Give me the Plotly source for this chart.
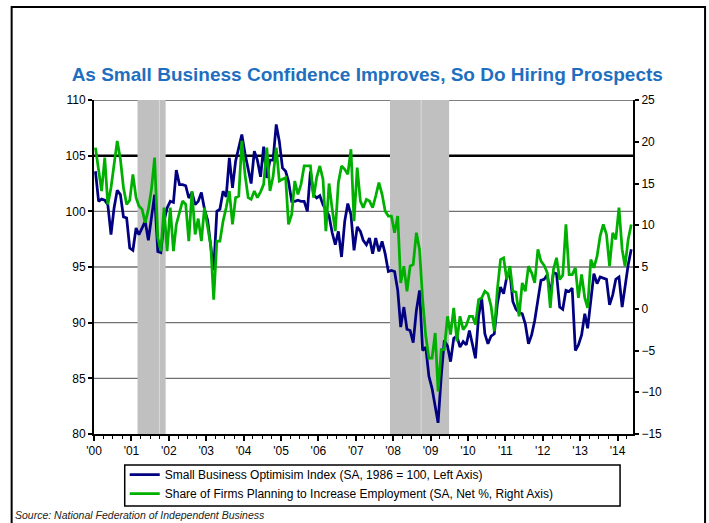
import pandas as pd
import plotly.graph_objects as go

# ---------------- data (monthly, Jan 2000 - May 2014) ----------------
start_month = "2000-01-01"

optimism = [
    103.6, 100.9, 101.1, 101.0, 100.6, 97.9, 100.3, 101.9, 101.5, 99.5, 99.4, 96.7,   # 2000
    96.5, 98.5, 97.9, 98.6, 99.1, 97.4, 99.4, 101.5, 96.4, 96.3, 99.1, 100.3,         # 2001
    100.9, 100.8, 103.7, 102.4, 102.4, 102.3, 101.2, 101.7, 100.6, 100.9, 101.7, 100.2,  # 2002
    99.2, 97.1, 94.7, 100.0, 100.2, 101.8, 101.3, 104.8, 102.1, 104.5, 105.7, 106.9,  # 2003
    105.2, 103.8, 102.5, 105.4, 104.6, 103.1, 105.8, 103.0, 104.6, 104.6, 107.8, 106.3,  # 2004
    103.9, 103.6, 102.7, 100.9, 100.9, 101.0, 100.9, 100.9, 100.0, 103.6, 101.5, 101.2,  # 2005
    101.4, 100.6, 100.1, 99.6, 98.1, 97.0, 98.2, 95.9, 99.1, 100.7, 99.7, 96.5,       # 2006
    98.6, 98.2, 97.4, 97.0, 97.6, 96.2, 97.6, 96.4, 97.3, 96.2, 94.6, 94.7,           # 2007
    94.6, 92.9, 89.6, 91.4, 89.4, 89.3, 88.2, 91.1, 92.9, 87.5, 87.8, 85.2,           # 2008
    84.1, 82.6, 81.0, 85.2, 88.4, 87.9, 86.5, 88.6, 88.8, 87.8, 88.3, 88.0,           # 2009
    89.3, 88.0, 86.8, 90.6, 92.2, 89.0, 88.1, 88.8, 89.0, 91.7, 93.2, 92.6,           # 2010
    94.1, 94.5, 91.9, 91.2, 90.9, 90.8, 89.9, 88.1, 88.9, 90.2, 92.0, 93.8,           # 2011
    93.9, 94.3, 92.5, 94.5, 94.4, 91.4, 91.2, 92.9, 92.8, 93.1, 87.5, 88.0,           # 2012
    88.9, 90.8, 89.5, 92.1, 94.4, 93.5, 94.1, 94.0, 93.9, 91.6, 92.5, 93.9,           # 2013
    94.1, 91.4, 93.4, 95.2, 96.6,                                                     # 2014
]

hiring = [
    19.3, 16.5, 14.1, 18.1, 12.5, 14.5, 17.5, 20.1, 17.9, 14.5, 12.5, 13.0,   # 2000
    16.1, 13.3, 12.3, 11.9, 10.3, 11.9, 14.3, 18.1, 8.5, 6.9, 12.1, 6.9,      # 2001
    12.1, 6.9, 10.1, 11.7, 12.9, 12.5, 8.1, 14.1, 8.9, 10.8, 8.1, 12.1,       # 2002
    9.5, 7.5, 1.1, 8.1, 8.1, 10.5, 12.1, 14.1, 10.1, 13.3, 13.5, 20.1,        # 2003
    16.1, 13.3, 13.1, 14.1, 13.3, 14.0, 14.9, 19.3, 14.1, 15.8, 19.3, 15.3,   # 2004
    15.5, 15.7, 10.1, 11.3, 15.3, 13.7, 14.9, 17.1, 17.1, 17.1, 13.3, 15.7,   # 2005
    17.1, 15.5, 9.3, 15.0, 12.0, 9.3, 15.1, 17.1, 16.7, 16.1, 19.1, 10.5,     # 2006
    16.9, 12.9, 12.1, 13.1, 12.9, 12.1, 13.5, 15.1, 13.7, 11.7, 11.1, 11.1,   # 2007
    9.1, 11.1, 3.1, 5.1, 2.1, 5.1, 5.3, 9.1, 7.1, 1.1, -3.3, -5.9,            # 2008
    -5.9, -2.9, -9.9, -4.9, -4.9, -0.9, -3.1, 0.1, -3.9, -0.9, -2.5, -2.0,    # 2009
    -0.9, -0.9, -1.9, 1.1, 1.3, 2.1, 1.8, 0.3, -2.7, 2.3, 5.9, 6.1,           # 2010
    3.5, 5.1, 2.1, 2.0, -0.9, 3.1, 2.1, 5.1, 4.3, 3.1, 7.1, 5.7,              # 2011
    5.2, 4.3, 0.1, 4.7, 6.1, 3.5, 4.0, 10.1, 4.1, 4.1, 4.9, 1.3,              # 2012
    4.1, 1.3, 0.1, 5.9, 4.9, 6.3, 8.7, 10.1, 8.9, 5.1, 9.1, 8.3,              # 2013
    12.1, 7.1, 5.1, 8.3, 10.1,                                                # 2014
]

recessions = [("2001-03-01", "2001-12-01"), ("2007-12-01", "2009-07-01")]
event_lines = ["2001-10-01", "2008-10-01"]
left_gridlines = [85, 90, 95, 100]
left_thick_line = 105

series_names = [
    "Small Business Optimisim Index (SA, 1986 = 100, Left Axis)",
    "Share of Firms Planning to Increase Employment (SA, Net %, Right Axis)",
]
title_text = "As Small Business Confidence Improves, So Do Hiring Prospects"
source_text = "Source: National Federation of Independent Business"

# mid-month positions for each monthly observation
months = pd.date_range(start_month, periods=len(optimism), freq="MS") + pd.Timedelta(days=14)

FONT = "Liberation Sans, Arial, sans-serif"

fig = go.Figure()
fig.add_trace(go.Scatter(
    x=months, y=optimism, name=series_names[0], mode="lines",
    line=dict(color="#000080", width=2.75), yaxis="y",
))
fig.add_trace(go.Scatter(
    x=months, y=hiring, name=series_names[1], mode="lines",
    line=dict(color="#00B000", width=2.75), yaxis="y2",
))

shapes = []
# gridlines
for g in left_gridlines:
    shapes.append(dict(type="line", xref="x domain", yref="y", x0=0, x1=1, y0=g, y1=g,
                       line=dict(color="#707070", width=1.3), layer="below"))
shapes.append(dict(type="line", xref="x domain", yref="y", x0=0, x1=1,
                   y0=left_thick_line, y1=left_thick_line,
                   line=dict(color="black", width=2.5), layer="below"))
shapes.append(dict(type="line", xref="x domain", yref="y", x0=0, x1=1, y0=110, y1=110,
                   line=dict(color="black", width=1.2), layer="below"))
# recession shading
for s, e in recessions:
    shapes.append(dict(type="rect", xref="x", yref="y", x0=s, x1=e, y0=80, y1=110,
                       fillcolor="#C0C0C0", line=dict(width=0), layer="between"))
for d in event_lines:
    shapes.append(dict(type="line", xref="x", yref="y", x0=d, x1=d, y0=80, y1=110,
                       line=dict(color="#DADADA", width=1), layer="between"))
# legend frame
shapes.append(dict(type="rect", xref="paper", yref="paper",
                   x0=0.057, x1=0.976, y0=-0.2156, y1=-0.0928,
                   line=dict(color="black", width=1.5), fillcolor="rgba(0,0,0,0)", layer="above"))
# outer frame (open at the bottom, cropped)
shapes.append(dict(type="rect", xref="paper", yref="paper",
                   x0=-0.1528, x1=1.1337, y0=-0.30, y1=1.2784,
                   line=dict(color="black", width=2), fillcolor="rgba(0,0,0,0)", layer="above"))

fig.update_layout(
    width=709, height=523, autosize=False,
    margin=dict(l=94, r=76, t=100, b=89),
    paper_bgcolor="white", plot_bgcolor="rgba(0,0,0,0)",
    font=dict(family=FONT, size=12, color="black"),
    title=dict(text="<b>" + title_text + "</b>", x=0.518, xref="container", xanchor="center",
               y=0.857, yref="container", yanchor="middle",
               font=dict(family=FONT, size=19, color="#1F6FC0")),
    showlegend=True,
    legend=dict(x=0.057, y=-0.2216, xanchor="left", yanchor="bottom",
                bgcolor="rgba(0,0,0,0)", borderwidth=0,
                font=dict(family=FONT, size=12, color="black"),
                itemwidth=30, tracegroupgap=0),
    shapes=shapes,
    xaxis=dict(
        type="date", range=["2000-01-01", "2014-06-01"],
        tickmode="linear", tick0="2000-01-01", dtick="M12", tickformat="'%y",
        ticks="outside", ticklen=5, tickwidth=1.5, tickcolor="black",
        showline=True, linecolor="black", linewidth=2, showgrid=False, zeroline=False,
        tickfont=dict(size=12),
        minor=dict(ticks="outside", ticklen=3, tickwidth=1, tickcolor="black",
                   dtick="M3", tick0="2000-01-01", showgrid=False),
    ),
    yaxis=dict(
        range=[80, 110], tick0=80, dtick=5, ticks="outside", ticklen=4, tickwidth=1.5,
        tickcolor="black", showline=True, linecolor="black", linewidth=2,
        showgrid=False, zeroline=False, tickfont=dict(size=12),
    ),
    yaxis2=dict(
        range=[-15, 25], tick0=-15, dtick=5, overlaying="y", side="right",
        ticks="outside", ticklen=4, tickwidth=1.5, tickcolor="black",
        showline=True, linecolor="black", linewidth=2,
        showgrid=False, zeroline=False, tickfont=dict(size=12),
    ),
    annotations=[dict(text="<i>" + source_text + "</i>", xref="paper", yref="paper",
                      x=-0.151, y=-0.2425, xanchor="left", yanchor="middle",
                      showarrow=False, font=dict(family=FONT, size=10.5, color="#222222"))],
    hovermode=False,
)

fig.write_html("out.html", config={"displayModeBar": False},
               post_script="document.body.style.margin='0px';")
